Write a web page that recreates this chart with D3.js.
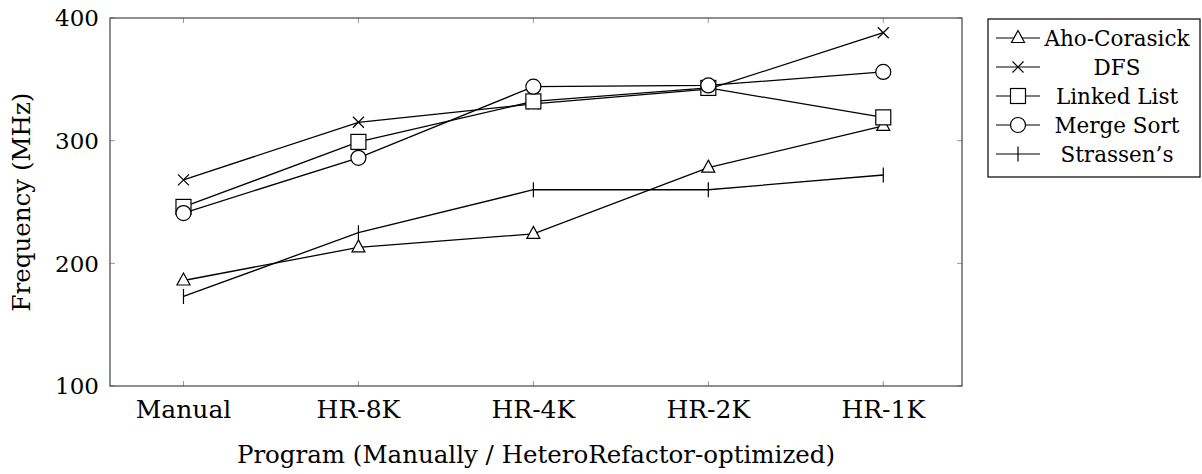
<!DOCTYPE html>
<html>
<head>
<meta charset="utf-8">
<script src="https://cdn.jsdelivr.net/npm/d3@7"></script>
<style>
  body { margin: 0; background: #fff; }
  text { font-family: "DejaVu Serif", "Liberation Serif", serif; fill: #000; }
</style>
</head>
<body>
<div id="chart"></div>
<script>
// chart data
const programs = ["Manual", "HR-8K", "HR-4K", "HR-2K", "HR-1K"];
const seriesNames = ["Aho-Corasick", "DFS", "Linked List", "Merge Sort", "Strassen\u2019s"];
const seriesMarkers = ["triangle", "cross", "square", "circle", "bar"];
const ahoCorasick = [186, 213, 224, 278, 312];
const dfs = [268, 315, 330, 342, 388];
const linkedList = [246, 299, 332, 343, 319];
const mergeSort = [241, 286, 344, 345, 356];
const strassens = [173, 225, 260, 260, 272];
const yTicks = [100, 200, 300, 400];

const series = [ahoCorasick, dfs, linkedList, mergeSort, strassens].map((vals, i) => ({
  name: seriesNames[i], marker: seriesMarkers[i], values: vals
}));

const width = 1202, height = 474;
const margin = {top: 18, right: 240, bottom: 88, left: 110};
const innerW = width - margin.left - margin.right;
const innerH = height - margin.top - margin.bottom;

const svg = d3.select("#chart").append("svg")
  .attr("width", width)
  .attr("height", height);

const g = svg.append("g")
  .attr("transform", `translate(${margin.left},${margin.top})`);

const x = d3.scaleLinear().domain([-0.42, 4.45]).range([0, innerW]);
const y = d3.scaleLinear().domain([100, 400]).range([innerH, 0]);

// ticks (inward, grey) on all four sides
const tickColor = "#999";
yTicks.forEach(t => {
  g.append("line").attr("x1", 0).attr("x2", 5).attr("y1", y(t)).attr("y2", y(t)).attr("stroke", tickColor);
  g.append("line").attr("x1", innerW).attr("x2", innerW - 5).attr("y1", y(t)).attr("y2", y(t)).attr("stroke", tickColor);
  g.append("text").attr("x", -11).attr("y", y(t)).attr("dy", "0.36em")
    .attr("text-anchor", "end").style("font-size", "23px").text(t);
});
programs.forEach((p, i) => {
  g.append("line").attr("x1", x(i)).attr("x2", x(i)).attr("y1", innerH).attr("y2", innerH - 5).attr("stroke", tickColor);
  g.append("line").attr("x1", x(i)).attr("x2", x(i)).attr("y1", 0).attr("y2", 5).attr("stroke", tickColor);
  g.append("text").attr("x", x(i)).attr("y", innerH + 32)
    .attr("text-anchor", "middle").style("font-size", "25px").text(p);
});

// frame
g.append("rect").attr("width", innerW).attr("height", innerH)
  .attr("fill", "none").attr("stroke", "#444").attr("stroke-width", 1.2);

// axis titles
g.append("text").attr("x", innerW / 2).attr("y", innerH + 77)
  .attr("text-anchor", "middle").style("font-size", "24.5px")
  .text("Program (Manually / HeteroRefactor-optimized)");
g.append("text").attr("transform", `translate(${-80},${innerH / 2}) rotate(-90)`)
  .attr("text-anchor", "middle").style("font-size", "24.5px").text("Frequency (MHz)");

// marker drawing
function drawMarker(sel, type) {
  const s = sel.append("g").attr("fill", "white").attr("stroke", "#000").attr("stroke-width", 1.2);
  if (type === "triangle") {
    s.append("path").attr("d", "M0,-7.5 L6.5,4.5 L-6.5,4.5 Z");
  } else if (type === "cross") {
    s.append("path").attr("d", "M-5.5,-5.5 L5.5,5.5 M-5.5,5.5 L5.5,-5.5").attr("fill", "none");
  } else if (type === "square") {
    s.append("rect").attr("x", -7.5).attr("y", -7.5).attr("width", 15).attr("height", 15);
  } else if (type === "circle") {
    s.append("circle").attr("r", 7.5);
  } else if (type === "bar") {
    s.append("path").attr("d", "M0,-7.5 L0,7.5");
  }
}

const line = d3.line().x((d, i) => x(i)).y(d => y(d));

series.forEach(sr => {
  g.append("path").datum(sr.values)
    .attr("d", line).attr("fill", "none")
    .attr("stroke", "#000").attr("stroke-width", 1.3);
});
series.forEach(sr => {
  sr.values.forEach((v, i) => {
    const m = g.append("g").attr("transform", `translate(${x(i)},${y(v)})`);
    drawMarker(m, sr.marker);
  });
});

// legend
const legend = svg.append("g").attr("transform", "translate(988,19)");
legend.append("rect").attr("width", 212).attr("height", 158)
  .attr("fill", "white").attr("stroke", "#000").attr("stroke-width", 1.2);
series.forEach((sr, i) => {
  const row = legend.append("g").attr("transform", `translate(0,${19 + i * 29})`);
  row.append("line").attr("x1", 8).attr("x2", 52).attr("stroke", "#000").attr("stroke-width", 1.2);
  const m = row.append("g").attr("transform", "translate(30,0)");
  drawMarker(m, sr.marker);
  row.append("text").attr("x", 129).attr("dy", "0.36em")
    .attr("text-anchor", "middle").style("font-size", "21.5px").text(sr.name);
});
</script>
</body>
</html>
